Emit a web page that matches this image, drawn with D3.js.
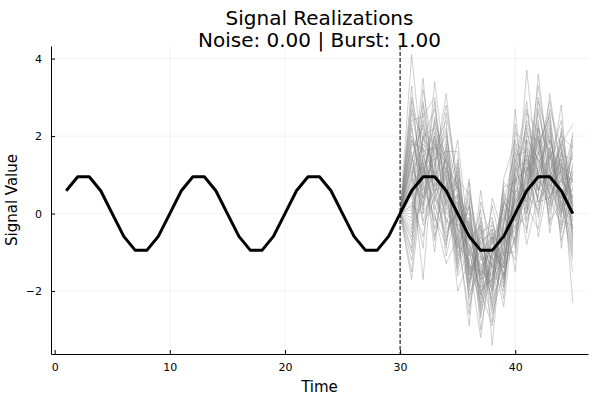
<!DOCTYPE html>
<html>
<head>
<meta charset="utf-8">
<script src="https://cdn.jsdelivr.net/npm/d3@7"></script>
<style>
	body { margin: 0; background: #fff; }
	text { font-family: 'DejaVu Sans', sans-serif; }
</style>
</head>
<body>
<svg id="chart" width="600" height="400"></svg>
<script>
// time steps and the clean signal
const times = d3.range(1, 46)
const signal = [0.59, 0.95, 0.95, 0.59, 0, -0.59, -0.95, -0.95, -0.59, 0,
	0.59, 0.95, 0.95, 0.59, 0, -0.59, -0.95, -0.95, -0.59, 0,
	0.59, 0.95, 0.95, 0.59, 0, -0.59, -0.95, -0.95, -0.59, 0,
	0.59, 0.95, 0.95, 0.59, 0, -0.59, -0.95, -0.95, -0.59, 0,
	0.59, 0.95, 0.95, 0.59, 0]

// realizations after the burst, t = 30..45
const burstStart = 30
const realizations = [
	[0, 4.1, 1.2, 0.3, 1.5, -0.8, 0.2, -1.9, -0.4, -1.3, 0.9, 1.1, 2.0, 0.4, 1.3, -0.6],
	[0, -0.4, 2.1, 1.8, 0.2, 1.1, -1.5, -0.3, -2.1, 0.4, -0.7, 1.9, 0.6, 1.7, 0.1, 1.2],
	[0, 1.3, 0.1, 3.4, 1.0, -0.9, -0.1, -1.6, 0.2, -1.1, 1.6, 0.0, 1.5, 2.4, -0.4, 0.7],
	[0, 0.8, 3.5, 0.2, -0.6, 0.5, -2.2, -0.8, -1.4, 0.3, -0.2, 3.7, 0.9, 0.3, 1.8, 2.3],
	[0, -1.7, 0.9, 1.6, 2.2, -0.2, 0.4, -2.5, -0.6, -1.9, 0.5, 0.3, 3.6, 1.1, 0.6, -1.1],
	[0, 1.9, 1.6, -0.4, 0.7, -1.6, -1.0, 0.1, -3.4, -0.2, 1.1, 1.4, -0.1, 1.9, 0.9, 0.4],
	[0, 0.3, -0.6, 1.2, 3.1, 0.4, -0.4, -1.2, -1.1, -2.4, 0.2, 0.8, 1.3, 0.5, 2.1, -0.2],
	[0, 2.6, 1.0, 2.3, -0.3, 0.9, -1.8, -0.5, -0.3, -0.8, 2.7, -0.5, 2.2, 0.8, -0.1, 1.6],
	[0, -0.9, 2.8, 0.7, 1.4, -1.2, 0.8, -2.0, -1.7, 0.6, -0.9, 1.2, 0.4, 3.1, 1.0, -0.9],
	[0, 1.1, -1.7, 1.9, 0.4, 1.9, -0.7, -0.9, -2.6, -1.5, 0.7, 2.4, 1.7, -0.2, 0.3, 0.9],
	[0, 0.5, 1.4, -1.0, 1.8, -0.5, -2.9, 0.3, -0.8, -0.1, -0.5, 0.6, 2.6, 1.4, 2.4, 0.2],
	[0, 2.2, 0.4, 1.1, -1.1, 0.2, 0.1, -3.0, -1.2, -1.0, 1.4, -0.2, 0.8, 2.0, 0.5, -1.5],
	[0, -0.2, 1.9, 2.7, 0.9, -2.0, -1.2, -0.6, -0.1, -1.7, 0.0, 1.7, 1.1, 0.0, 1.5, 1.4],
	[0, 1.6, -0.3, 0.4, 2.6, 0.7, -0.3, -1.4, -1.9, 0.9, 1.9, 0.2, -0.4, 1.6, -0.7, 0.5],
	[0, 0.0, 3.2, 1.4, -0.9, 1.4, -1.3, -2.3, 0.4, -0.6, -1.2, 2.0, 1.9, 0.7, 1.1, -0.4],
	[0, 2.9, 0.7, -0.2, 1.2, -1.4, 0.6, -1.0, -2.3, -1.2, 0.4, 1.0, 3.3, 1.2, 0.0, 1.8],
	[0, -1.2, 1.1, 2.0, 0.0, 0.3, -1.9, 0.6, -1.5, -2.0, 1.0, -0.8, 0.5, 2.7, 1.7, 0.1],
	[0, 1.4, 2.3, 0.9, 1.7, -0.4, -0.8, -1.7, -0.7, 0.1, -0.4, 1.5, 1.4, 0.9, 2.8, -0.8],
	[0, 0.6, -0.9, 2.5, 0.5, 1.0, -2.4, -1.1, -2.0, -0.9, 1.3, 2.9, 0.2, 1.5, 0.4, 0.6],
	[0, 1.8, 1.7, 0.0, -1.3, -0.6, 0.3, -2.7, -0.9, -1.4, 0.6, 0.4, 2.4, -0.5, 1.2, 1.0],
	[0, -0.6, 0.5, 1.5, 2.0, 0.6, -1.1, -0.2, -1.8, 0.2, -1.5, 1.3, 1.0, 2.2, -0.2, -0.3],
	[0, 2.4, 2.5, 3.0, 0.3, -1.0, -0.5, -1.5, -2.8, -0.5, 0.3, 0.7, 1.6, 0.6, 1.9, 0.8],
	[0, 0.2, 0.0, 0.6, 1.1, 0.8, -1.6, -0.7, -0.5, -1.8, 2.1, 1.8, -0.6, 1.0, 0.8, 2.0],
	[0, 1.0, 1.8, 1.3, -0.2, -0.3, -0.2, -2.1, -1.3, -0.7, -0.3, -0.1, 2.9, 1.8, 0.2, -0.1],
	[0, -1.5, 1.3, -0.7, 1.6, 1.6, -1.4, -1.3, -1.6, 0.7, 0.8, 2.2, 0.7, 0.2, 1.6, 0.3],
	[0, 3.3, 0.2, 2.1, 0.8, -0.7, 0.9, -1.8, -0.2, -1.6, -0.6, 0.9, 1.8, 2.5, -0.9, 1.1],
	[0, 0.9, 2.6, 0.5, -0.5, 0.1, -2.0, -0.4, -2.4, -0.3, 1.5, 1.6, 0.3, 0.8, 1.4, -0.7],
	[0, -0.1, 1.5, 1.7, 2.4, -1.1, -0.6, -2.2, -1.0, -1.2, 0.1, -0.4, 1.2, 1.3, 0.7, 1.5],
	[0, 1.5, -0.2, 0.8, 0.6, 0.4, -1.7, -0.9, -1.9, 0.0, -0.8, 2.6, 2.1, -0.3, 2.2, 0.0],
	[0, 0.4, 2.0, 2.2, 1.3, -0.1, 0.0, -1.6, -0.6, -2.2, 0.9, 0.5, 0.1, 1.7, 0.3, -1.2],
	[0, 2.0, 0.8, -0.1, -0.8, 1.2, -0.9, -2.6, -1.1, -0.4, -0.1, 1.1, 1.5, 2.9, 1.1, 0.7],
	[0, -0.7, 1.7, 1.0, 1.9, -0.6, -2.6, -0.1, -1.4, -1.1, 2.3, 0.1, 2.3, 0.4, -0.3, 1.3],
	[0, 1.2, 0.6, 2.9, 0.1, 0.5, -1.0, -1.3, -2.2, 0.5, 0.0, 1.4, 0.6, 1.1, 1.7, -0.5],
	[0, 0.7, 1.2, 0.1, 1.0, -1.5, -0.3, -0.8, -0.4, -1.4, 1.2, 0.3, 1.9, 0.1, 0.9, 0.9],
	[0, 2.7, 1.9, 1.6, -0.4, 0.0, -1.5, -1.9, -1.7, -0.8, -0.4, 2.1, 1.0, 2.1, 0.1, -0.2],
	[0, -0.3, 0.3, 1.2, 2.8, 0.9, 0.5, -1.1, -1.3, -1.9, 0.6, 0.8, 2.7, 1.0, 1.3, 0.4],
	[0, 1.7, 2.2, -0.6, 0.4, -0.8, -1.2, -3.2, -0.8, 0.2, 1.7, 1.0, 0.0, 1.4, 2.0, 1.7],
	[0, 0.1, 1.0, 2.4, 1.4, 0.6, -0.7, -0.3, -2.5, -1.0, -1.0, 1.9, 1.4, 0.5, 0.6, -1.0],
	[0, 1.3, 2.9, 0.8, 0.0, -0.3, -2.1, -1.4, -0.9, -0.6, 0.4, 0.0, 1.2, 2.3, 1.0, 0.2],
	[0, 0.9, 0.4, 1.8, 1.1, 0.2, -0.4, -1.7, -1.5, -1.3, 0.8, 1.2, 0.9, 1.0, -0.5, 1.9],
	[0, -1.0, 1.5, 0.6, 0.7, 1.3, -1.6, -0.6, -1.2, 0.3, -0.2, 0.6, 2.0, 0.2, 1.6, -0.4],
	[0, 1.9, 0.9, 1.3, 2.1, -0.4, -0.8, -2.0, -2.9, -0.7, 1.0, 2.3, 1.3, 1.9, 0.8, 0.6],
	[0, 0.6, 2.4, 0.4, -0.1, -0.9, 0.2, -1.0, -0.6, -1.6, 0.3, 0.9, 3.0, 0.7, 0.4, 1.0],
	[0, 2.3, 0.0, 2.0, 0.6, 0.8, -1.4, -1.5, -1.6, -0.2, 1.8, 1.6, 0.6, 1.2, 1.4, -2.3],
	[0, 0.2, 1.3, 1.4, 1.6, -1.3, -0.2, -2.4, -1.0, -1.4, -0.6, 0.2, 1.7, 2.6, 0.2, 0.3],
	[0, 1.4, 1.1, 0.7, -0.7, 0.3, -1.8, -0.7, -1.8, 0.8, 0.5, 1.5, 0.3, 0.4, 1.2, 0.8],
	[0, 3.0, 1.6, 1.7, 1.3, -0.2, -1.0, -2.1, -0.5, -1.7, 0.1, 0.7, 2.2, 1.6, 0.0, 2.1],
	[0, -0.5, 2.0, 1.1, 0.3, 0.7, -0.4, -0.9, -2.0, -0.3, 1.1, 2.7, 0.8, 0.9, 1.8, 0.1],
]

const xTicks = [0, 10, 20, 30, 40]
const yTicks = [-2, 0, 2, 4]

let margin = { top: 46, right: 12, bottom: 46, left: 51 }
let outer_width = 600
let outer_height = 400
let width = outer_width - margin.left - margin.right
let height = outer_height - margin.top - margin.bottom

const svg = d3.select('#chart')

// plots-style 3% padding on both axes
const xExt = d3.extent(times)
const xPad = (xExt[1] - xExt[0]) * 0.03
const allY = signal.concat(realizations.flat())
const yExt = d3.extent(allY)
const yPad = (yExt[1] - yExt[0]) * 0.03

const xScale = d3.scaleLinear()
	.domain([xExt[0] - xPad, xExt[1] + xPad])
	.range([0, width])

const yScale = d3.scaleLinear()
	.domain([yExt[0] - yPad, yExt[1] + yPad])
	.range([height, 0])

const chart = svg.append('g')
	.attr('transform', `translate(${margin.left},${margin.top})`)

// grid
chart.append('g')
	.selectAll('line')
	.data(xTicks)
	.enter()
	.append('line')
	.attr('x1', d => xScale(d)).attr('x2', d => xScale(d))
	.attr('y1', 0).attr('y2', height)
	.attr('stroke', '#000').attr('stroke-opacity', 0.1).attr('stroke-width', 0.5)

chart.append('g')
	.selectAll('line')
	.data(yTicks)
	.enter()
	.append('line')
	.attr('y1', d => yScale(d)).attr('y2', d => yScale(d))
	.attr('x1', 0).attr('x2', width)
	.attr('stroke', '#000').attr('stroke-opacity', 0.1).attr('stroke-width', 0.5)

const line = d3.line()
	.x(d => xScale(d[0]))
	.y(d => yScale(d[1]))

// gray realizations
chart.append('g')
	.selectAll('path')
	.data(realizations)
	.enter()
	.append('path')
	.attr('d', r => line(r.map((v, i) => [burstStart + i, v])))
	.attr('fill', 'none')
	.attr('stroke', '#808080')
	.attr('stroke-opacity', 0.38)
	.attr('stroke-width', 1)

// clean signal
chart.append('path')
	.attr('d', line(times.map((t, i) => [t, signal[i]])))
	.attr('fill', 'none')
	.attr('stroke', '#000')
	.attr('stroke-width', 3)
	.attr('stroke-linejoin', 'round')

// burst marker
chart.append('line')
	.attr('x1', xScale(burstStart)).attr('x2', xScale(burstStart))
	.attr('y1', 0).attr('y2', height)
	.attr('stroke', '#000')
	.attr('stroke-width', 1)
	.attr('stroke-dasharray', '4,2')

// axes
const axisX = chart.append('g')
	.attr('transform', `translate(0,${height})`)
	.call(d3.axisBottom(xScale).tickValues(xTicks).tickSizeInner(-4).tickSizeOuter(0).tickPadding(9))
axisX.select('.domain').attr('stroke', '#000')
axisX.selectAll('text').attr('font-size', 11).attr('fill', '#000')

const axisY = chart.append('g')
	.call(d3.axisLeft(yScale).tickValues(yTicks).tickSizeInner(-4).tickSizeOuter(0).tickPadding(9)
		.tickFormat(d => d < 0 ? `\u2212${-d}` : `${d}`))
axisY.select('.domain').attr('stroke', '#000')
axisY.selectAll('text').attr('font-size', 11).attr('fill', '#000')

// titles
svg.append('text')
	.text('Signal Realizations')
	.attr('x', margin.left + width / 2)
	.attr('y', 25)
	.attr('text-anchor', 'middle')
	.attr('font-size', 20)

svg.append('text')
	.text('Noise: 0.00 | Burst: 1.00')
	.attr('x', margin.left + width / 2)
	.attr('y', 47)
	.attr('text-anchor', 'middle')
	.attr('font-size', 20)

svg.append('text')
	.text('Time')
	.attr('x', margin.left + width / 2)
	.attr('y', 392)
	.attr('text-anchor', 'middle')
	.attr('font-size', 15)

svg.append('text')
	.text('Signal Value')
	.attr('transform', `translate(17,${margin.top + height / 2}) rotate(-90)`)
	.attr('text-anchor', 'middle')
	.attr('font-size', 15)
</script>
</body>
</html>
